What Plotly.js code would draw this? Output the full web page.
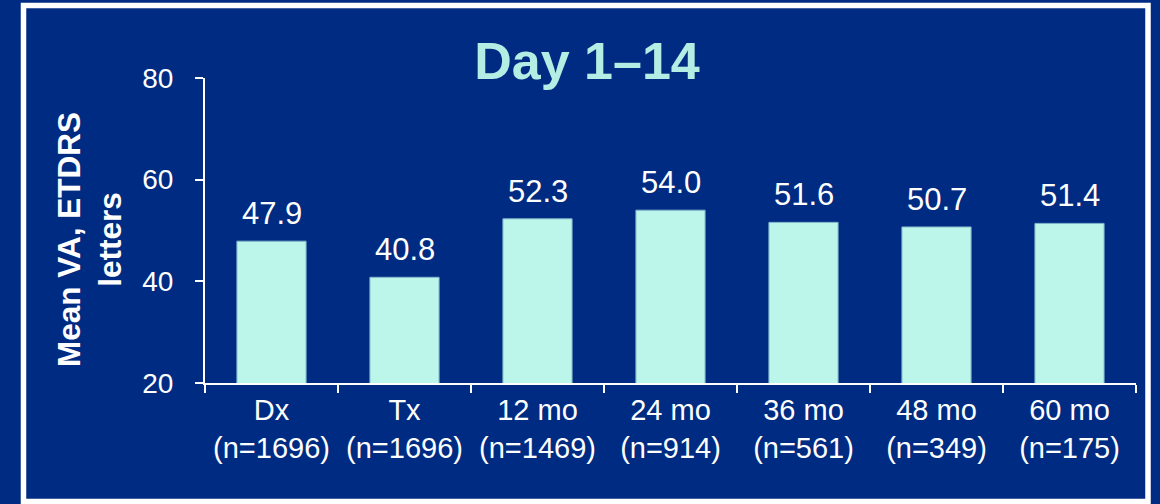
<!DOCTYPE html>
<html>
<head>
<meta charset="utf-8">
<script src="https://cdn.plot.ly/plotly-3.0.1.min.js"></script>
<style>
  html, body { margin: 0; padding: 0; background: #002B82; }
  #chart { width: 1160px; height: 504px; }
</style>
</head>
<body>
<div id="chart"></div>
<script>
const categories = ["Dx", "Tx", "12 mo", "24 mo", "36 mo", "48 mo", "60 mo"];
const sampleSizes = ["n=1696", "n=1696", "n=1469", "n=914", "n=561", "n=349", "n=175"];
const meanVA = [47.9, 40.8, 52.3, 54.0, 51.6, 50.7, 51.4];
const yTicks = [20, 40, 60, 80];

const tickText = categories.map((c, i) => c + "<br>(" + sampleSizes[i] + ")");

const bg = "#002B82";
const font = "Liberation Sans, Arial, sans-serif";

const trace = {
  type: "bar",
  x: categories,
  y: meanVA,
  marker: { color: "#BCF6EA", line: { color: "#7FB3C9", width: 1 } },
  hoverinfo: "skip"
};

const valueLabels = categories.map((c, i) => ({
  x: c, y: meanVA[i], xref: "x", yref: "y",
  text: meanVA[i].toFixed(1),
  showarrow: false, yanchor: "bottom", yshift: 8,
  font: { family: font, size: 31, color: "#FFFFFF" }
}));

const layout = {
  width: 1160, height: 504,
  paper_bgcolor: bg, plot_bgcolor: bg,
  margin: { l: 205, r: 24, t: 78, b: 121 },
  showlegend: false,
  bargap: 0.48,
  title: {
    text: "<b>Day 1–14</b>",
    font: { family: font, size: 52, color: "#B3EDE3" },
    x: 587 / 1160, xanchor: "center", xref: "container",
    y: 1 - 61 / 504, yanchor: "middle", yref: "container"
  },
  xaxis: {
    type: "category",
    tickvals: categories, ticktext: tickText,
    tickson: "boundaries",
    ticks: "outside", ticklen: 8, tickwidth: 2, tickcolor: "#FFFFFF",
    showline: true, linecolor: "#FFFFFF", linewidth: 2,
    showgrid: false, zeroline: false,
    tickfont: { family: font, size: 29, color: "#FFFFFF" }
  },
  yaxis: {
    range: [20, 80], tickvals: yTicks,
    ticks: "outside", ticklen: 8, tickwidth: 2, tickcolor: "#FFFFFF",
    showline: true, linecolor: "#FFFFFF", linewidth: 2,
    showgrid: false, zeroline: false,
    ticklabelstandoff: 16,
    tickfont: { family: font, size: 28, color: "#FFFFFF" }
  },
  annotations: valueLabels.concat([{
    xref: "paper", yref: "paper",
    x: (89 - 205) / 931, y: (383 - 240) / 305,
    xanchor: "center", yanchor: "middle",
    text: "<b>Mean VA, ETDRS<br>letters</b>",
    textangle: -90, showarrow: false,
    font: { family: font, size: 31.5, color: "#FFFFFF" }
  }]),
  shapes: [{
    type: "rect", xref: "paper", yref: "paper",
    x0: (23.5 - 205) / 931, x1: (1148 - 205) / 931,
    y0: (383 - 501.5) / 305, y1: (383 - 5.5) / 305,
    line: { color: "#FFFFFF", width: 5.5 },
    fillcolor: "rgba(0,0,0,0)", layer: "below"
  }]
};

Plotly.newPlot("chart", [trace], layout, { displayModeBar: false, staticPlot: true });
</script>
</body>
</html>
